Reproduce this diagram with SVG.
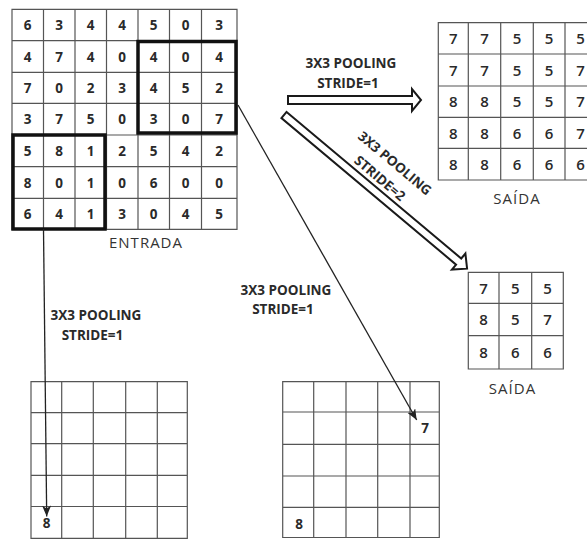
<svg xmlns="http://www.w3.org/2000/svg" width="587" height="539" viewBox="0 0 587 539">
<style>
.grid{fill:none;stroke:#555;stroke-width:1.2}
.thick{fill:none;stroke:#111;stroke-width:3.5}
.num{font-family:"Open Sans","Liberation Sans",sans-serif;font-weight:700;font-size:13.5px;fill:#2a2a2a;text-anchor:middle}
.onum{font-family:"Open Sans","Liberation Sans",sans-serif;font-weight:600;font-size:15px;fill:#2a2a2a;text-anchor:middle}
.cap{font-family:"Open Sans","Liberation Sans",sans-serif;font-weight:400;font-size:15px;fill:#333;text-anchor:middle;letter-spacing:1px}
.lbl{font-family:"Open Sans","Liberation Sans",sans-serif;font-weight:700;font-size:13.5px;fill:#2a2a2a;text-anchor:middle}
.thin{fill:none;stroke:#222;stroke-width:1.3}
.block{fill:#fff;stroke:#1a1a1a;stroke-width:2;stroke-linejoin:miter}
</style>
<defs>
<marker id="ah" markerUnits="userSpaceOnUse" markerWidth="12" markerHeight="10" refX="11" refY="4.5" orient="auto">
<path d="M0,0 L11,4.5 L0,9 L3,4.5 z" fill="#222"/>
</marker>
</defs>
<rect width="587" height="539" fill="#fff"/>

<g id="entrada">
<path class="grid" d="M12,9.3H237V229.3H12Z M43.5,9.3V229.3 M75,9.3V229.3 M106.5,9.3V229.3 M138,9.3V229.3 M169.5,9.3V229.3 M201.5,9.3V229.3 M12,40.7H237 M12,72.3H237 M12,103.3H237 M12,135H237 M12,166.7H237 M12,198.3H237"/>
<rect class="thick" x="138" y="41.5" width="98" height="91.5"/>
<rect class="thick" x="13" y="135" width="92" height="94"/>
<g class="num">
<text x="27.7" y="30">6</text><text x="59.2" y="30">3</text><text x="90.7" y="30">4</text><text x="122.2" y="30">4</text><text x="153.7" y="30">5</text><text x="185.5" y="30">0</text><text x="219.2" y="30">3</text>
<text x="27.7" y="61.5">4</text><text x="59.2" y="61.5">7</text><text x="90.7" y="61.5">4</text><text x="122.2" y="61.5">0</text><text x="153.7" y="61.5">4</text><text x="185.5" y="61.5">0</text><text x="219.2" y="61.5">4</text>
<text x="27.7" y="92.8">7</text><text x="59.2" y="92.8">0</text><text x="90.7" y="92.8">2</text><text x="122.2" y="92.8">3</text><text x="153.7" y="92.8">4</text><text x="185.5" y="92.8">5</text><text x="219.2" y="92.8">2</text>
<text x="27.7" y="124.2">3</text><text x="59.2" y="124.2">7</text><text x="90.7" y="124.2">5</text><text x="122.2" y="124.2">0</text><text x="153.7" y="124.2">3</text><text x="185.5" y="124.2">0</text><text x="219.2" y="124.2">7</text>
<text x="27.7" y="156">5</text><text x="59.2" y="156">8</text><text x="90.7" y="156">1</text><text x="122.2" y="156">2</text><text x="153.7" y="156">5</text><text x="185.5" y="156">4</text><text x="219.2" y="156">2</text>
<text x="27.7" y="187.5">8</text><text x="59.2" y="187.5">0</text><text x="90.7" y="187.5">1</text><text x="122.2" y="187.5">0</text><text x="153.7" y="187.5">6</text><text x="185.5" y="187.5">0</text><text x="219.2" y="187.5">0</text>
<text x="27.7" y="219">6</text><text x="59.2" y="219">4</text><text x="90.7" y="219">1</text><text x="122.2" y="219">3</text><text x="153.7" y="219">0</text><text x="185.5" y="219">4</text><text x="219.2" y="219">5</text>
</g>
<text class="cap" x="146" y="247.5">ENTRADA</text>
</g>

<g id="saida1">
<path class="grid" d="M438.3,22.7H597V180H438.3Z M468.3,22.7V180 M500.7,22.7V180 M533.3,22.7V180 M565,22.7V180 M438.3,54H597 M438.3,86H597 M438.3,117.3H597 M438.3,148.3H597"/>
<g class="onum">
<text x="453.3" y="44">7</text><text x="484.5" y="44">7</text><text x="517" y="44">5</text><text x="549" y="44">5</text><text x="580.5" y="44">5</text>
<text x="453.3" y="75.5">7</text><text x="484.5" y="75.5">7</text><text x="517" y="75.5">5</text><text x="549" y="75.5">5</text><text x="580.5" y="75.5">7</text>
<text x="453.3" y="107">8</text><text x="484.5" y="107">8</text><text x="517" y="107">5</text><text x="549" y="107">5</text><text x="580.5" y="107">7</text>
<text x="453.3" y="138.5">8</text><text x="484.5" y="138.5">8</text><text x="517" y="138.5">6</text><text x="549" y="138.5">6</text><text x="580.5" y="138.5">7</text>
<text x="453.3" y="169.5">8</text><text x="484.5" y="169.5">8</text><text x="517" y="169.5">6</text><text x="549" y="169.5">6</text><text x="580.5" y="169.5">6</text>
</g>
<text class="cap" x="517" y="204">SAÍDA</text>
</g>

<g id="saida2">
<path class="grid" d="M468.3,272.3H563.3V369H468.3Z M499,272.3V369 M531.7,272.3V369 M468.3,303.3H563.3 M468.3,335.7H563.3"/>
<g class="onum">
<text x="483.6" y="293.5">7</text><text x="515.3" y="293.5">5</text><text x="547.5" y="293.5">5</text>
<text x="483.6" y="325">8</text><text x="515.3" y="325">5</text><text x="547.5" y="325">7</text>
<text x="483.6" y="357.5">8</text><text x="515.3" y="357.5">6</text><text x="547.5" y="357.5">6</text>
</g>
<text class="cap" x="512.5" y="394">SAÍDA</text>
</g>

<g id="grade-esquerda">
<path class="grid" d="M31,381.7H187.3V538.3H31Z M61.7,381.7V538.3 M93.3,381.7V538.3 M125.7,381.7V538.3 M157.3,381.7V538.3 M31,412.7H187.3 M31,443.7H187.3 M31,475.3H187.3 M31,506.5H187.3"/>
<text class="num" x="46.5" y="527.5">8</text>
</g>

<g id="grade-meio">
<path class="grid" d="M282.7,381.7H439.3V537.5H282.7Z M313.7,381.7V537.5 M346,381.7V537.5 M377.7,381.7V537.5 M410,381.7V537.5 M282.7,412H439.3 M282.7,444.3H439.3 M282.7,476H439.3 M282.7,507.3H439.3"/>
<text class="num" x="299" y="529">8</text>
<text class="num" x="425" y="433">7</text>
</g>

<g id="rotulos">
<text class="lbl" x="351" y="68">3X3 POOLING</text>
<text class="lbl" x="348" y="88">STRIDE=1</text>
<text class="lbl" transform="translate(395,163) rotate(40)" y="5">3X3 POOLING</text>
<text class="lbl" transform="translate(380,178) rotate(40)" y="5">STRIDE=2</text>
<text class="lbl" x="96" y="319.5">3X3 POOLING</text>
<text class="lbl" x="92.5" y="339.5">STRIDE=1</text>
<text class="lbl" x="286" y="295">3X3 POOLING</text>
<text class="lbl" x="283" y="314">STRIDE=1</text>
</g>

<g id="conectores">
<polygon class="block" points="288,96 412,96 412,89 421,100 412,111 412,104 288,104"/>
<polygon class="block" transform="translate(284,115) rotate(40)" points="0,-4 228,-4 228,-10.5 239,0 228,10.5 228,4 0,4"/>
<line class="thin" x1="238" y1="105" x2="416.7" y2="420" marker-end="url(#ah)"/>
<line class="thin" x1="43.5" y1="229" x2="46.7" y2="516.5" marker-end="url(#ah)"/>
</g>
</svg>
